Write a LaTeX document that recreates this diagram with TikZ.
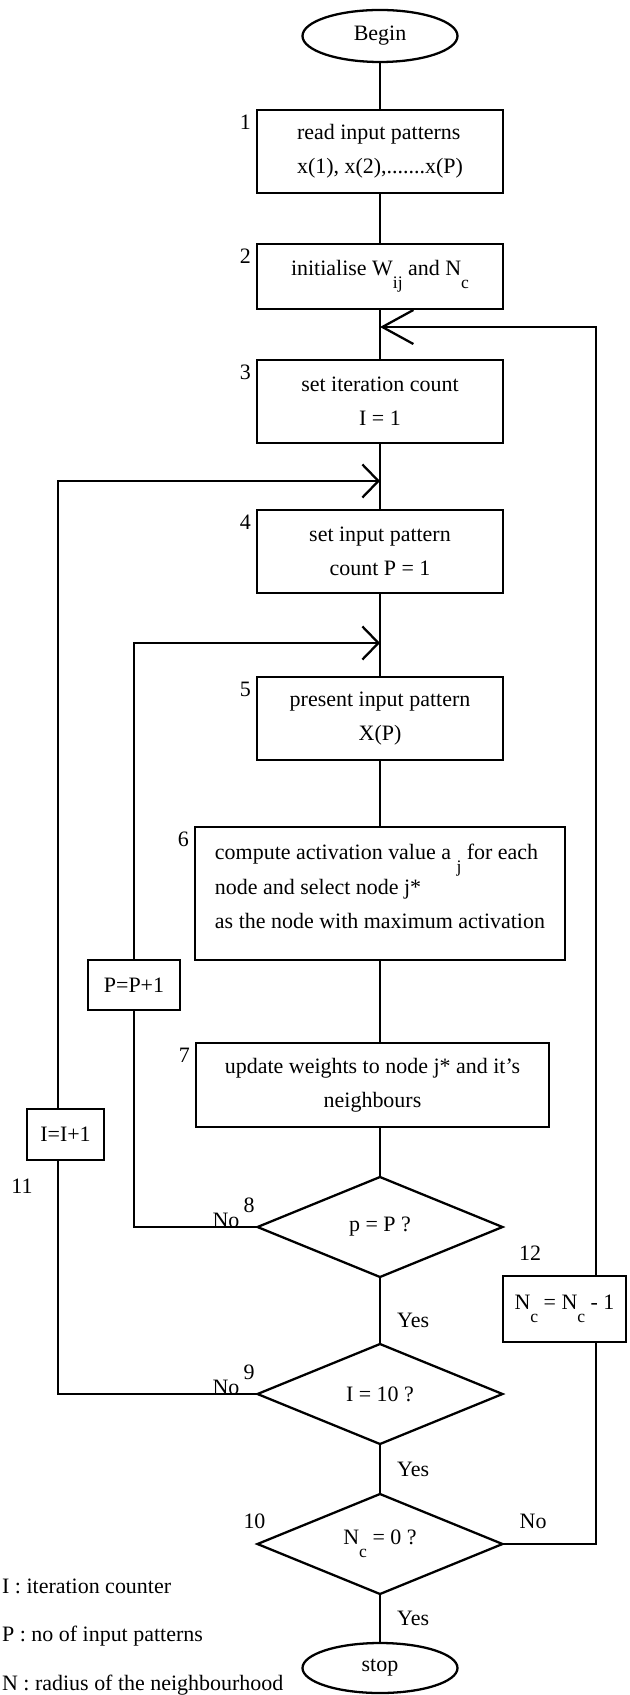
\documentclass[tikz,border=0pt]{standalone}
\usepackage{fontspec}
\setmainfont{Liberation Serif}
\usepackage{tikz}
\usetikzlibrary{shapes.geometric, positioning, arrows.meta, calc}

\newcommand{\lowsub}[1]{\raisebox{-2.6mm}{\fontsize{10}{10}\selectfont #1}}

\begin{document}
\begin{tikzpicture}[line width=1.3pt,
  font=\fontsize{12.5}{19.5}\selectfont,
  box/.style={draw, minimum width=49.2mm, minimum height=16.6mm, align=center, inner sep=0pt, outer sep=0pt},
  terminal/.style={draw, ellipse, minimum width=31mm, minimum height=10mm, inner sep=0pt, outer sep=0pt},
  decision/.style={draw, diamond, aspect=2.45, minimum width=49mm, minimum height=20mm, inner sep=0pt, outer sep=0pt},
  smallbox/.style={draw, minimum height=10mm, inner sep=0pt, outer sep=0pt},
  numtag/.style={inner sep=0pt},
  yeslbl/.style={inner sep=0pt, anchor=west, xshift=3.2mm},
  loopin/.style={-{Straight Barb[length=3.2mm, width=6.6mm]}},
  loopback/.style={-{Straight Barb[length=6.2mm, width=6.8mm]}}]
  \useasboundingbox (-76mm,7.2mm) rectangle (49.8mm,-331.8mm);

  % main chain
  \node[terminal, minimum height=10.4mm] (begin) {Begin};
  \node[box, below=9.6mm of begin, align=left] (read) {read input patterns\\x(1), x(2),.......x(P)};
  \node[box, below=10.2mm of read, minimum height=13mm] (init) {initialise W\lowsub{ij} and N\lowsub{c}};
  \node[box, below=10.2mm of init] (iter) {set iteration count\\I = 1};
  \node[box, below=13.4mm of iter] (pcount) {set input pattern\\count P = 1};
  \node[box, below=16.8mm of pcount] (present) {present input pattern\\X(P)};
  \node[box, below=13.4mm of present, minimum width=74mm, minimum height=26.6mm, align=left] (activ) {compute activation value a \lowsub{j} for each\\node and select node j*\\as the node with maximum activation\\[-11.5pt]\mbox{}};
  \node[box, below=16.6mm of activ, xshift=-1.5mm, minimum width=70.6mm, minimum height=16.8mm] (update) {update weights to node j* and it's\\neighbours};
  \node[decision, below=10mm of update, xshift=1.5mm] (pcheck) {p = P ?};
  \node[decision, below=13.4mm of pcheck] (icheck) {I = 10 ?};
  \node[decision, below=10mm of icheck] (ncheck) {N\lowsub{c} = 0 ?};
  \node[terminal, below=9.8mm of ncheck] (stop) {stop};

  % side boxes
  \node[smallbox, minimum width=18.4mm, below left=0mm and 3mm of activ.south west] (pinc) {P=P+1};
  \node[smallbox, minimum width=15.4mm, minimum height=10.2mm] (iinc) at (-62.9mm,-219.7mm) {I=I+1};
  \node[smallbox, minimum width=24.6mm, minimum height=13.2mm] (ncdec) at (36.9mm,-254.6mm) {N\lowsub{c} = N\lowsub{c} - 1};

  % loop entry points
  \coordinate (rjoin) at ([yshift=-3.6mm]init.south);
  \coordinate (ijoin) at ([yshift=-7.6mm]iter.south);
  \coordinate (pjoin) at ([yshift=-10mm]pcount.south);

  \draw (begin) -- (read);
  \draw (read) -- (init);
  \draw (init) -- (iter);
  \draw (iter) -- (pcount);
  \draw (pcount) -- (present);
  \draw (present) -- (activ);
  \draw (activ.south) -- (activ.south |- update.north);
  \draw (pcheck.north |- update.south) -- (pcheck.north);
  \draw (pcheck) -- node[yeslbl, yshift=-2mm] (yes1) {Yes} (icheck);
  \draw (icheck) -- node[yeslbl] (yes2) {Yes} (ncheck);
  \draw (ncheck) -- node[yeslbl] (yes3) {Yes} (stop);

  \draw (pcheck.west) -| (pinc.south);
  \draw[loopin] (pinc.north) |- (pjoin);
  \draw (icheck.west) -| ([xshift=-1.5mm]iinc.south);
  \draw[loopin] ([xshift=-1.5mm]iinc.north) |- (ijoin);
  \draw (ncheck.east) -| ([xshift=6.3mm]ncdec.south);
  \draw[loopback] ([xshift=6.3mm]ncdec.north) |- (rjoin);

  % step numbers
  \foreach \nd/\k in {read/1, init/2, iter/3, pcount/4, present/5, activ/6, update/7}
    \node[numtag, anchor=north east] (n\k) at ([xshift=-1mm, yshift=-0.8mm]\nd.north west) {\k};
  \node[numtag, anchor=base east] (no8) at ([xshift=-3.4mm]pcheck.west) {No};
  \node[numtag, anchor=base west] (n8) at ([xshift=-3mm, yshift=3mm]pcheck.west) {8};
  \node[numtag, anchor=base east] (no9) at ([xshift=-3.4mm]icheck.west) {No};
  \node[numtag, anchor=base west] (n9) at ([xshift=-3mm, yshift=3mm]icheck.west) {9};
  \node[numtag, anchor=base] (n10) at ([xshift=-0.6mm, yshift=3.2mm]ncheck.west) {10};
  \node[numtag, anchor=base west] (no10) at ([xshift=3.2mm, yshift=3.2mm]ncheck.east) {No};
  \node[numtag] (n11) at ([xshift=-1mm, yshift=-5.2mm]iinc.south west) {11};
  \node[numtag] (n12) at ([xshift=5.4mm, yshift=4.6mm]ncdec.north west) {12};

  % legend
  \node[numtag, anchor=west] (leg1) at (-75.8mm,-310mm) {I : iteration counter};
  \node[numtag, anchor=west] (leg2) at (-75.8mm,-320mm) {P : no of input patterns};
  \node[numtag, anchor=west] (leg3) at (-75.8mm,-329.8mm) {N : radius of the neighbourhood};
\end{tikzpicture}
\end{document}
